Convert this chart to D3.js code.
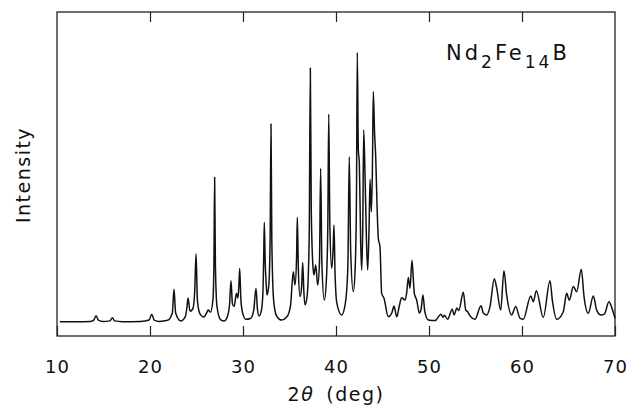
<!DOCTYPE html>
<html>
<head>
<meta charset="utf-8">
<script src="https://cdn.jsdelivr.net/npm/d3@7"></script>
<style>
body { margin: 0; background: #fff; }
text { font-family: "DejaVu Sans", sans-serif; fill: #111; }
</style>
</head>
<body>
<svg width="629" height="407"></svg>
<script>
// x-ray pattern: 2theta (deg) and intensity (arb. units, baseline 0)
var twoTheta = [
    10.3, 12, 13.6, 13.95, 14.2, 14.45, 14.9, 15.7, 15.95, 16.2, 17, 19, 19.9, 20.18, 20.45, 21,
    21.9, 22.4, 22.58, 22.76, 23.3, 23.8, 23.97, 24.09, 24.3, 24.6, 24.8, 24.95, 25.1, 25.4, 25.8, 26.05, 26.27, 26.5, 26.78, 26.88, 26.95, 27.03, 27.2, 27.6, 28.0,
    28.3, 28.55, 28.71, 28.86, 29.05, 29.3, 29.45, 29.56, 29.64, 29.78, 30.0, 30.3, 30.8, 31.15, 31.4, 31.55, 31.72, 31.98, 32.14, 32.23, 32.29, 32.38, 32.5, 32.58, 32.78, 32.92, 33.01, 33.1, 33.3, 33.6, 34.16,
    34.7, 35.1, 35.41, 35.59, 35.76, 35.84, 35.95, 36.13, 36.3, 36.42, 36.55, 36.67, 36.9, 37.12, 37.24, 37.34, 37.5, 37.63, 37.82, 38.03, 38.22, 38.35, 38.48, 38.74, 38.97, 39.12, 39.22, 39.34, 39.54, 39.7, 39.78, 39.9, 40.1, 40.61,
    41.0, 41.27, 41.43, 41.58, 41.86, 42.06, 42.2, 42.29, 42.4, 42.51, 42.65, 42.76, 42.88, 42.98, 43.12, 43.28, 43.41, 43.56, 43.66, 43.8, 43.92, 44.01, 44.15, 44.27, 44.4, 44.55, 44.73, 44.91, 45.16, 45.62,
    46.0, 46.24, 46.53, 46.8, 47.06, 47.42, 47.6, 47.78, 47.96, 48.17, 48.42, 48.68, 48.96, 49.15, 49.35, 49.55, 49.93, 50.65,
    51.29, 51.5, 51.65, 52.0, 52.5, 52.7, 53.0, 53.2, 53.69, 53.95, 54.16, 54.34, 54.95, 55.59, 55.85, 56.2, 56.56, 57.02, 57.28, 57.71, 58.06, 58.35, 58.89, 59.32, 59.78,
    60.14, 60.94, 61.22, 61.54, 62.29, 63.01, 63.26, 63.73, 64.44, 64.8, 65.09, 65.52, 65.88, 66.38, 66.67, 67.13, 67.67, 68.03, 68.49, 68.85, 69.35, 69.71, 70
];
var intensity = [
    0.3, 0.3, 0.4, 0.9, 2.5, 0.9, 0.4, 0.6, 1.8, 0.6, 0.3, 0.4, 0.9, 3.1, 0.9, 0.4,
    0.8, 3.5, 12.3, 3.5, 0.6, 2.2, 5.5, 9.1, 4.2, 5, 11, 25.4, 8, 3, 2, 3.3, 4.6, 3.8, 9, 24, 53.8, 22, 6, 1, 0.6,
    2, 6.5, 15.5, 7, 5.9, 10.8, 9, 14, 20, 8, 3, 1.2, 1.5, 4.5, 12.7, 5, 2.4, 4.5, 11, 25, 37, 23, 14, 10.2, 14, 32, 73.5, 30, 8, 2.5, 0.9,
    2, 6, 18.8, 13.9, 24, 39, 20, 9.6, 13, 22.1, 11, 6.5, 10, 32, 94.3, 42, 22, 17.6, 21.3, 13.9, 22, 57.1, 22, 8.3, 16, 36, 77.2, 36, 20, 28, 36.1, 18, 7, 2.8,
    7, 20, 61.4, 26, 11.4, 20, 46, 100, 64, 59, 30, 19.4, 36, 71.3, 55, 30, 19.4, 36, 53, 41, 58, 85.5, 70, 61.4, 45, 31.2, 28, 10.8, 9, 2.1,
    3.5, 6.1, 2.1, 6, 9.2, 8.3, 11, 16.7, 12.7, 23.1, 10.8, 8.3, 3.5, 5, 10.2, 4, 0.9, 0.7,
    3.1, 1.9, 2.7, 1.2, 4.9, 2.8, 5.4, 4.4, 11.2, 4.6, 4, 2.8, 1.2, 6.2, 3.4, 2.8, 5.9, 16.2, 12.7, 4.6, 19.2, 10.2, 2.8, 5.9, 1.6,
    1.2, 9.8, 7.7, 11.8, 1.9, 15.5, 8.3, 1.2, 4, 10.8, 8.3, 13.3, 11.4, 19.7, 9.6, 3.4, 9.8, 4.6, 2.8, 3.1, 7.7, 4.9, 1.6
];
var xTicks = [10, 20, 30, 40, 50, 60, 70];
var xTopTicks = [20, 30, 40, 50, 60];

var svg = d3.select("svg");
var x = d3.scaleLinear().domain([10, 70]).range([57, 615]);
var y = d3.scaleLinear().domain([-5, 115]).range([336, 12]);

var data = twoTheta.map(function(t, i){ return {t: t, v: intensity[i]}; });

// bottom ticks + labels
var gx = svg.append("g").attr("transform", "translate(0,336)")
    .call(d3.axisBottom(x).tickValues(xTicks).tickSize(-10).tickPadding(24));
gx.select(".domain").remove();
gx.selectAll("line").attr("stroke", "#222").attr("stroke-width", 1.2);
gx.selectAll("text").attr("font-size", "18px").attr("fill", "#111")
    .style("font-family", "'DejaVu Sans', sans-serif").attr("letter-spacing", "1px");

// top ticks, no labels
var gt = svg.append("g").attr("transform", "translate(0,12)")
    .call(d3.axisTop(x).tickValues(xTopTicks).tickSize(-10).tickFormat(""));
gt.select(".domain").remove();
gt.selectAll("line").attr("stroke", "#222").attr("stroke-width", 1.2);

// frame
svg.append("rect").attr("x", x(10)).attr("y", y(115))
    .attr("width", x(70) - x(10)).attr("height", y(-5) - y(115))
    .attr("fill", "none").attr("stroke", "#222").attr("stroke-width", 1.3);

var line = d3.line()
    .x(function(d){ return x(d.t); })
    .y(function(d){ return y(d.v); })
    .curve(d3.curveMonotoneX);

svg.append("path").datum(data)
    .attr("d", line).attr("fill", "none")
    .attr("stroke", "#111").attr("stroke-width", 1.5).attr("stroke-linejoin", "round");

// axis titles
var xt = svg.append("text").attr("x", 336).attr("y", 401)
    .attr("text-anchor", "middle").attr("font-size", "19px").attr("letter-spacing", "1.5px");
xt.append("tspan").text("2");
xt.append("tspan").attr("font-style", "italic").text("θ");
xt.append("tspan").attr("dx", 12).text("(deg)");

svg.append("text").attr("transform", "translate(30,175) rotate(-90)")
    .attr("text-anchor", "middle").attr("font-size", "19px").attr("letter-spacing", "1.5px")
    .text("Intensity");

// compound label
var lab = svg.append("text").attr("x", 446).attr("y", 60)
    .attr("font-size", "21px").attr("letter-spacing", "3px");
lab.append("tspan").text("Nd");
lab.append("tspan").attr("font-size", "17px").attr("dy", 8).text("2");
lab.append("tspan").attr("dy", -8).text("Fe");
lab.append("tspan").attr("font-size", "17px").attr("dy", 8).text("14");
lab.append("tspan").attr("dy", -8).text("B");
</script>
</body>
</html>
